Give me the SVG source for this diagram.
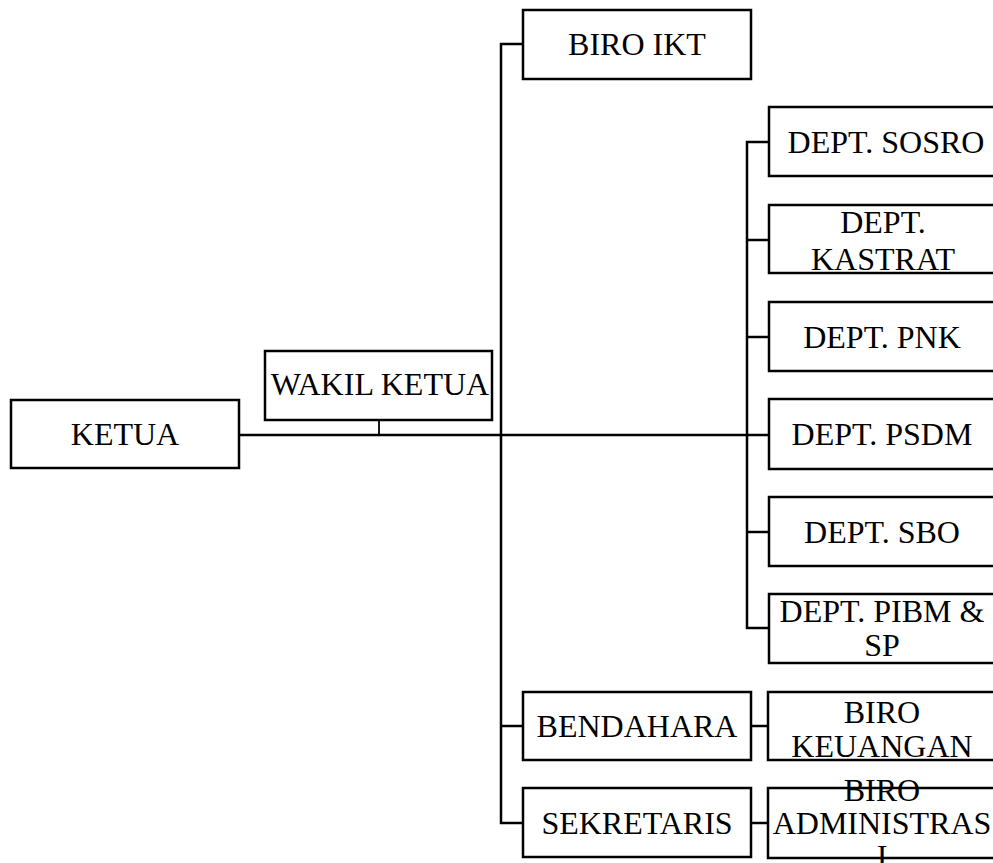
<svg xmlns="http://www.w3.org/2000/svg" width="993" height="863" viewBox="0 0 993 863">
<style>
.box{fill:#fff;stroke:#000;stroke-width:2.5}
.t{font-family:"Liberation Serif","Times New Roman",serif;font-size:32px;fill:#000;text-anchor:middle}
.c{fill:none;stroke:#000;stroke-width:2.5}
</style>
<rect width="993" height="863" fill="#fff"/>
<g id="connectors">
<line class="c" x1="239" y1="435" x2="769" y2="435"/>
<line x1="379" y1="420" x2="379" y2="435" stroke="#000" stroke-width="1.8"/>
<path class="c" d="M523,44 H501 V823 H523"/>
<path class="c" d="M769,142 H747 V628 H769"/>
<line class="c" x1="747" y1="240" x2="769" y2="240"/>
<line class="c" x1="747" y1="337" x2="769" y2="337"/>
<line class="c" x1="747" y1="532" x2="769" y2="532"/>
<line class="c" x1="501" y1="726" x2="523" y2="726"/>
<line class="c" x1="751" y1="726" x2="768" y2="726"/>
<line class="c" x1="751" y1="823" x2="768" y2="823"/>
</g>
<g id="ketua"><rect class="box" x="11" y="400" width="228" height="68"/><text class="t" x="125" y="445">KETUA</text></g>
<g id="wakil-ketua"><rect class="box" x="265" y="351" width="227" height="69"/><text class="t" x="380" y="395">WAKIL KETUA</text></g>
<g id="biro-ikt"><rect class="box" x="523" y="10" width="228" height="69"/><text class="t" x="637" y="55">BIRO IKT</text></g>
<g id="dept-sosro"><rect class="box" x="769" y="107" width="240" height="69"/><text class="t" x="886" y="153">DEPT. SOSRO</text></g>
<g id="dept-kastrat"><rect class="box" x="769" y="205" width="240" height="68"/><text class="t" x="883" y="233">DEPT.</text><text class="t" x="883" y="270">KASTRAT</text></g>
<g id="dept-pnk"><rect class="box" x="769" y="302" width="240" height="69"/><text class="t" x="882" y="348">DEPT. PNK</text></g>
<g id="dept-psdm"><rect class="box" x="769" y="399" width="240" height="70"/><text class="t" x="882" y="445">DEPT. PSDM</text></g>
<g id="dept-sbo"><rect class="box" x="769" y="497" width="240" height="69"/><text class="t" x="882" y="543">DEPT. SBO</text></g>
<g id="dept-pibm-sp"><rect class="box" x="769" y="594" width="240" height="69"/><text class="t" x="882" y="622">DEPT. PIBM &amp;</text><text class="t" x="882" y="656">SP</text></g>
<g id="bendahara"><rect class="box" x="523" y="692" width="228" height="68"/><text class="t" x="637" y="737">BENDAHARA</text></g>
<g id="biro-keuangan"><rect class="box" x="768" y="692" width="240" height="68"/><text class="t" x="882" y="723">BIRO</text><text class="t" x="882" y="757">KEUANGAN</text></g>
<g id="sekretaris"><rect class="box" x="523" y="788" width="228" height="69"/><text class="t" x="637" y="834">SEKRETARIS</text></g>
<g id="biro-administrasi"><rect class="box" x="768" y="788" width="240" height="70"/><text class="t" x="882" y="801">BIRO</text><text class="t" x="882" y="834">ADMINISTRAS</text><text class="t" x="882" y="867">I</text></g>
</svg>
